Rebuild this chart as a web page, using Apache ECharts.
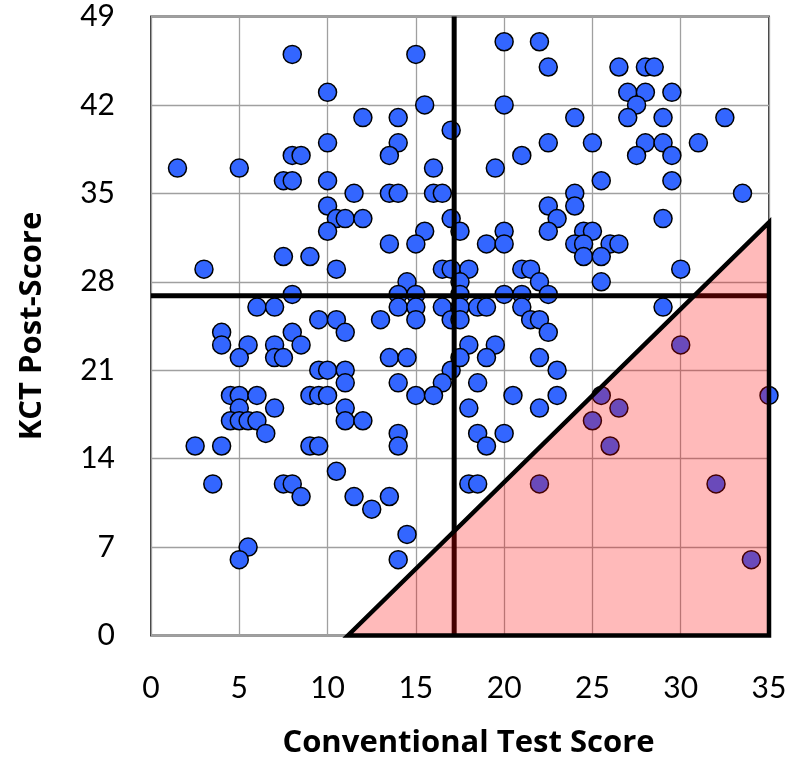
<!DOCTYPE html>
<html lang="en">
<head>
    <meta charset="UTF-8">
    <script src="https://cdn.jsdelivr.net/npm/echarts@6/dist/echarts.min.js"></script>
    <title>KCT vs Conventional</title>
    <style>
        html, body {
            height: 100%;
            width: 100%;
            padding: 0;
            margin: 0;
            background: #fff;
            overflow: hidden;
        }
        .my-chart {
            width: 790px;
            height: 759px;
        }
    </style>
</head>
<body>
<div class="my-chart"></div>
<script>
    // [conventional test score, KCT post-score]
    var students = [
        [8,46],[15,46],[10,43],[15.5,42],[12,41],[14,41],[17,40],[10,39],[14,39],[13.5,38],
        [8,38],[8.5,38],[1.5,37],[5,37],[16,37],[7.5,36],[8,36],[10,36],[11.5,35],[13.5,35],
        [14,35],[16,35],[16.5,35],[10,34],
        [20,47],[22,47],[22.5,45],[26.5,45],[28,45],[28.5,45],[27,43],[28,43],[29.5,43],[20,42],
        [27.5,42],[24,41],[27,41],[29,41],[32.5,41],[22.5,39],[25,39],[28,39],[29,39],[31,39],
        [21,38],[27.5,38],[29.5,38],[19.5,37],[25.5,36],[29.5,36],[24,35],[33.5,35],[22.5,34],
        [24,34],[29,33],
        [10.5,33],[11,33],[12,33],[17,33],[10,32],[15.5,32],[17.5,32],[13.5,31],[15,31],[7.5,30],
        [9,30],[3,29],[10.5,29],[16.5,29],[17,29],[14.5,28],[8,27],[14,27],[15,27],[6,26],
        [7,26],[14,26],[15,26],[16.5,26],[9.5,25],[10.5,25],[13,25],[15,25],[17,25],[4,24],
        [8,24],[11,24],[4,23],[5.5,23],[7,23],[8.5,23],[5,22],[7,22],[7.5,22],[13.5,22],
        [14.5,22],[9.5,21],[10,21],[11,21],[17,21],[11,20],[14,20],[16.5,20],[4.5,19],[5,19],
        [6,19],[9,19],[9.5,19],[10,19],[15,19],[16,19],[5,18],[7,18],[11,18],
        [23,33],[20,32],[22.5,32],[24.5,32],[25,32],[19,31],[20,31],[24,31],[24.5,31],[26,31],
        [26.5,31],[24.5,30],[25.5,30],[18,29],[21,29],[21.5,29],[30,29],[17.5,28],[22,28],[25.5,28],
        [20,27],[21,27],[22.5,27],[17.5,27],[17.5,26],[18.5,26],[19,26],[21,26],[29,26],[17.5,25],
        [21.5,25],[22,25],[22.5,24],[18,23],[19.5,23],[17.5,22],[19,22],[22,22],[30,23],[23,21],
        [18.5,20],[20.5,19],[23,19],[25.5,19],[35,19],[18,18],[22,18],[26.5,18],
        [4.5,17],[5,17],[5.5,17],[6,17],[6.5,16],[2.5,15],[4,15],[9,15],[9.5,15],[11,17],
        [12,17],[14,16],[14,15],[3.5,12],[7.5,12],[8,12],[8.5,11],[10.5,13],[11.5,11],[13.5,11],
        [12.5,10],[14.5,8],[5.5,7],[5,6],[14,6],
        [25,17],[18.5,16],[20,16],[19,15],[26,15],[18,12],[18.5,12],[22,12],[32,12],[34,6]
    ];

    var cutX = 17.17;   // vertical divider
    var cutY = 26.9;    // horizontal divider
    var zoneCorners = [[11.15, 0], [35, 32.7], [35, 0]];

    var xMax = 35, yMax = 49;

    var myChart = echarts.init(document.querySelector(".my-chart"));
    var labelFont = 'Lato, "DejaVu Sans", sans-serif';
    var titleFont = '"Open Sans", Lato, sans-serif';

    var option = {
        animation: false,
        grid: {
            left: 151,
            right: 21,
            top: 16.5,
            bottom: 123.5,
            containLabel: false,
            outerBoundsMode: 'none',
            show: true,
            borderColor: '#3a3a3a',
            borderWidth: 2
        },
        xAxis: {
            type: 'value',
            min: 0,
            max: xMax,
            interval: 5,
            name: 'Conventional Test Score',
            nameLocation: 'middle',
            nameGap: 92,
            nameTextStyle: {fontFamily: titleFont, fontWeight: 'bold', fontSize: 31, color: '#000', padding: [0, 0, 0, 17]},
            axisLine: {show: false},
            axisTick: {show: false},
            axisLabel: {fontFamily: labelFont, fontSize: 30, color: '#000', margin: 38},
            splitLine: {lineStyle: {color: '#a0a0a0', width: 1.3}}
        },
        yAxis: {
            type: 'value',
            min: 0,
            max: yMax,
            interval: 7,
            name: 'KCT Post-Score',
            nameLocation: 'middle',
            nameGap: 103,
            nameTextStyle: {fontFamily: titleFont, fontWeight: 'bold', fontSize: 31, color: '#000'},
            axisLine: {show: false},
            axisTick: {show: false},
            axisLabel: {fontFamily: labelFont, fontSize: 30, color: '#000', margin: 36},
            splitLine: {lineStyle: {color: '#a0a0a0', width: 1.3}}
        },
        series: [
            {
                type: 'scatter',
                data: students,
                symbolSize: 18,
                itemStyle: {color: '#3366ff', borderColor: '#000', borderWidth: 1.5, opacity: 1},
                z: 2
            },
            {
                type: 'line',
                data: [[cutX, 0], [cutX, yMax]],
                symbol: 'none',
                lineStyle: {color: '#000', width: 5},
                z: 3
            },
            {
                type: 'line',
                data: [[0, cutY], [xMax, cutY]],
                symbol: 'none',
                lineStyle: {color: '#000', width: 5},
                z: 3
            },
            {
                type: 'custom',
                data: [0],
                clip: false,
                z: 4,
                renderItem: function (params, api) {
                    var pts = zoneCorners.map(function (p) { return api.coord(p); });
                    return {
                        type: 'polygon',
                        shape: {points: pts},
                        style: {fill: 'rgba(255,0,0,0.27)', stroke: '#000', lineWidth: 4.5, lineJoin: 'miter'}
                    };
                }
            }
        ]
    };
    myChart.setOption(option);
</script>
</body>
</html>
